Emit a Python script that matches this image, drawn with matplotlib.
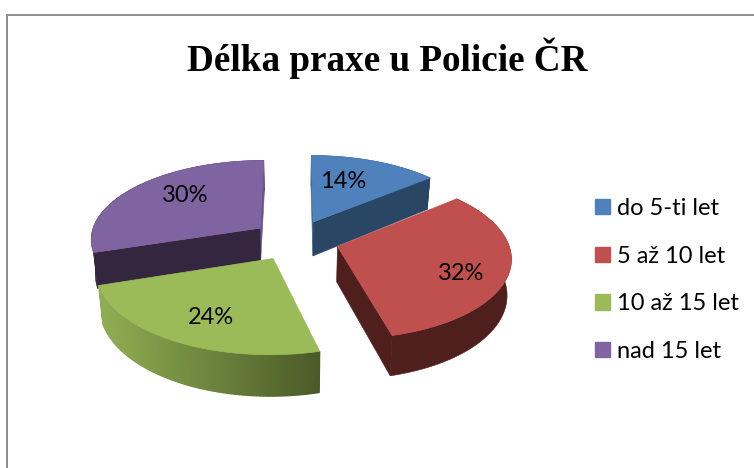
import numpy as np
import matplotlib
matplotlib.use("Agg")
import matplotlib.pyplot as plt
from matplotlib.patches import Patch, Polygon
from matplotlib.colors import to_rgb

TITLE = "Délka praxe u Policie ČR"
categories = ["do 5-ti let", "5 až 10 let", "10 až 15 let", "nad 15 let"]
values = [14, 32, 24, 30]
top_colors = ["#4f81bd", "#c0504d", "#9bbb59", "#8064a2"]
wall_colors = ["#2a4665", "#4f1f1e", "#8fae52", "#35263f"]
sliver_colors = ["#3f6a9c", None, None, "#6b558a"]
label_px = [(343, 181), (461, 273), (211, 318), (185, 196)]

# Perspective pie geometry, in pixels
CX, CY = 295, 240
RX, RY = 170, 79
TILT = 0.126
EXPLODE = 0.26
DEPTH = 35
BASE_SHRINK = 0.98


def project(px, py, lower=False):
    w = 1 + TILT * py
    sx = RX * px / w
    sy = -RY * py / w
    if lower:
        sx *= BASE_SHRINK
        sy += DEPTH / w
    return CX + sx, CY + sy


def mix(a, b, t):
    a, b = np.array(to_rgb(a)), np.array(to_rgb(b))
    return tuple(a + (b - a) * t)


fig = plt.figure(figsize=(7.54, 4.68), dpi=100)
ax = fig.add_axes([0, 0, 1, 1])
ax.set_xlim(0, 754)
ax.set_ylim(468, 0)
ax.axis("off")

# Chart frame, open towards the right and bottom edges
ax.plot([6.5, 6.5, 754], [468, 14.5, 14.5], color="#8c8c8c", lw=1.4,
        solid_joinstyle="miter")

fractions = np.array(values) / sum(values)
edges = np.concatenate([[0], np.cumsum(fractions)]) * 2 * np.pi


def quad(points, col, z, lw=0.4):
    ax.add_patch(Polygon(points, fc=col, ec=col, lw=lw, zorder=z))


def draw_slice(i, z):
    a0, a1 = edges[i], edges[i + 1]
    mid = (a0 + a1) / 2
    ox, oy = EXPLODE * np.sin(mid), EXPLODE * np.cos(mid)
    th = np.linspace(a0, a1, 90)
    px, py = ox + np.sin(th), oy + np.cos(th)
    tx, ty = project(px, py)
    bx, by = project(px, py, lower=True)
    ax0, ay0 = project(ox, oy)
    bx0, by0 = project(ox, oy, lower=True)

    # Outer wall; the green one shades from left to right in narrow strips
    if i == 2:
        for k in range(len(th) - 1):
            t = np.clip((tx[k] - 100) / (321 - 100), 0, 1)
            quad([(tx[k], ty[k]), (tx[k + 1], ty[k + 1]),
                  (bx[k + 1], by[k + 1]), (bx[k], by[k])],
                 mix("#8fae52", "#4a5a28", t), z, lw=0.9)
    else:
        quad(np.column_stack([np.r_[tx, bx[::-1]], np.r_[ty, by[::-1]]]),
             wall_colors[i], z)

    # Cut walls facing the viewer, and the slivers seen almost edge-on
    if i in (0, 1):
        quad([(ax0, ay0), (tx[-1], ty[-1]), (bx[-1], by[-1]), (bx0, by0)],
             wall_colors[i], z + 0.1)
    if i == 3:
        quad([(ax0, ay0), (tx[0], ty[0]), (bx[0], by[0]), (bx0, by0)],
             wall_colors[i], z + 0.1)
    if sliver_colors[i]:
        e = -1 if i == 3 else 0
        quad([(ax0, ay0), (tx[e], ty[e]), (bx[e], by[e]), (bx0, by0)],
             sliver_colors[i], z + 0.05)

    quad(np.column_stack([np.r_[ax0, tx], np.r_[ay0, ty]]), top_colors[i], z + 0.2, lw=0.5)


# Back slices first so the front ones overlap them
for order, idx in enumerate([0, 3, 1, 2]):
    draw_slice(idx, 2 + order)

for val, (x, y) in zip(values, label_px):
    ax.text(x, y, f"{val}%", ha="center", va="center", fontsize=17,
            family="Lato", color="black", zorder=10)

ax.text(387, 58, TITLE, ha="center", va="center", fontsize=26.7, weight="bold",
        family="Liberation Serif", color="black", zorder=10)

handles = [Patch(fc=c, ec=c) for c in top_colors]
ax.legend(handles, categories, loc="center left", bbox_to_anchor=(595, 280),
          bbox_transform=ax.transData, frameon=False, handlelength=0.62,
          handleheight=0.62, handletextpad=0.3, labelspacing=1.13,
          borderpad=0, borderaxespad=0,
          prop={"family": "Lato", "size": 17})

fig.savefig("out.png", dpi=100)
